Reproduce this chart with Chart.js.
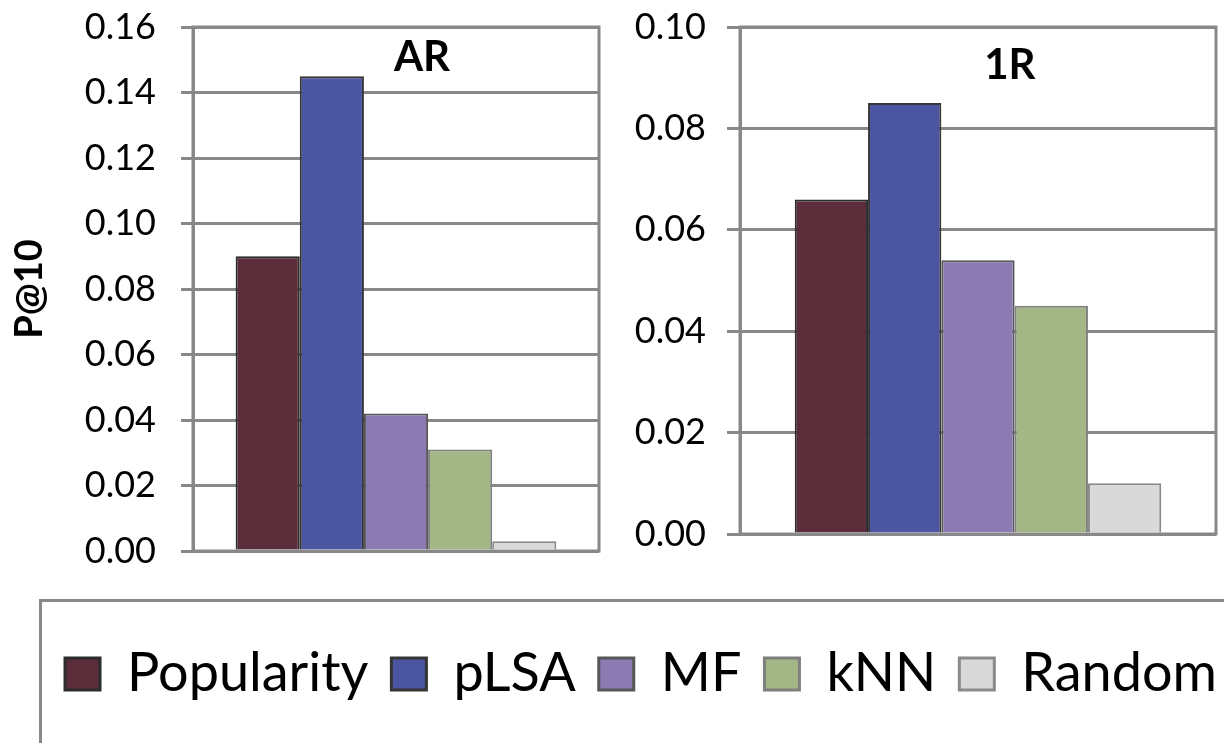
<!DOCTYPE html>
<html>
<head>
<meta charset="utf-8">
<title>P@10 by method</title>
<script src="https://cdn.jsdelivr.net/npm/chart.js@4.4.1/dist/chart.umd.min.js"></script>
<style>
    html, body { margin: 0; padding: 0; background: #fff; }
    body { width: 1224px; height: 743px; overflow: hidden; position: relative; }
    #wrap-ar { position: absolute; left: 0; top: 0; }
    #wrap-1r { position: absolute; left: 620px; top: 0; }
    #wrap-legend { position: absolute; left: -9px; top: 602px; }
    #legend-frame {
        position: absolute; left: 39px; top: 599px; width: 1300px; height: 200px;
        border: 3px solid #888; box-sizing: border-box; pointer-events: none;
    }
</style>
</head>
<body>
<div id="wrap-ar"><canvas id="chart-ar" width="620" height="600"></canvas></div>
<div id="wrap-1r"><canvas id="chart-1r" width="604" height="600"></canvas></div>
<div id="wrap-legend"><canvas id="chart-legend" width="1300" height="400"></canvas></div>
<div id="legend-frame"></div>
<script>

var methods = ['Popularity', 'pLSA', 'MF', 'kNN', 'Random'];
var panels = ['AR', '1R'];
var valuesAR = [0.090, 0.145, 0.042, 0.031, 0.003];
var values1R = [0.066, 0.085, 0.054, 0.045, 0.010];
var ticksAR = [0, 0.02, 0.04, 0.06, 0.08, 0.10, 0.12, 0.14, 0.16];
var ticks1R = [0, 0.02, 0.04, 0.06, 0.08, 0.10];

var fillColors = ['#5b2d3b', '#4b55a1', '#8c7bb3', '#a2b785', '#d9d9d9'];
var edgeColors = ['#2c2c2c', '#353535', '#575757', '#7f7f7f', '#8a8a8a'];
var gridGray = '#888888';

Chart.defaults.font.family = 'Lato, "Liberation Sans", sans-serif';
Chart.defaults.color = '#000';
Chart.defaults.animation = false;

/* panel title drawn inside the plot area */
var panelTitle = {
    id: 'panelTitle',
    afterDraw: function(chart, args, opts) {
        if(!opts.text) return;
        var area = chart.chartArea;
        var ctx = chart.ctx;
        ctx.save();
        ctx.font = 'bold 42px Lato';
        ctx.fillStyle = '#000';
        ctx.textAlign = 'center';
        ctx.textBaseline = 'alphabetic';
        ctx.fillText(opts.text, area.left + area.width * opts.x, area.top + opts.baseline);
        ctx.restore();
    }
};

/* grey box round the plot area */
var plotFrame = {
    id: 'plotFrame',
    beforeDatasetsDraw: function(chart, args, opts) {
        if(!opts.show) return;
        var a = chart.chartArea;
        var ctx = chart.ctx;
        ctx.save();
        ctx.strokeStyle = gridGray;
        ctx.lineWidth = 3;
        ctx.strokeRect(a.left, a.top, a.right - a.left, a.bottom - a.top);
        ctx.restore();
    }
};

function build_datasets(values, groupWidth) {
    return methods.map(function(m, i) {
        return {
            label: m,
            data: values ? [values[i]] : [],
            backgroundColor: fillColors[i],
            borderColor: edgeColors[i],
            borderWidth: 2,
            borderSkipped: 'bottom',
            categoryPercentage: groupWidth || 1,
            barPercentage: 1
        };
    });
}

function panel_chart(canvasId, panel, values, ticks, cfg) {
    var ctx = document.getElementById(canvasId);
    return new Chart(ctx, {
        type: 'bar',
        data: {
            labels: [panel],
            datasets: build_datasets(values, cfg.groupWidth)
        },
        options: {
            responsive: false,
            layout: { padding: { left: 0, top: 27, right: cfg.padRight, bottom: cfg.padBottom } },
            scales: {
                x: { display: false },
                y: {
                    min: ticks[0],
                    max: ticks[ticks.length - 1],
                    afterBuildTicks: function(axis) {
                        axis.ticks = ticks.map(function(v) { return { value: v }; });
                    },
                    afterFit: function(scale) {
                        // fixed axis width, and no extra room above/below for labels
                        scale.width = cfg.axisWidth;
                        scale.paddingTop = 0;
                        scale.paddingBottom = 0;
                    },
                    grid: { color: gridGray, lineWidth: 3, tickLength: cfg.tickLength, drawTicks: true },
                    border: { color: gridGray, width: 3 },
                    ticks: {
                        padding: cfg.tickPad,
                        font: { size: 36 },
                        color: '#000',
                        callback: function(v) { return Number(v).toFixed(2); }
                    },
                    title: {
                        display: !!cfg.yTitle,
                        text: cfg.yTitle || '',
                        color: '#000',
                        font: { size: 38, weight: 'bold' },
                        padding: { top: 7, bottom: 0 }
                    }
                }
            },
            plugins: {
                legend: { display: false },
                tooltip: { enabled: false },
                panelTitle: { text: panel, x: cfg.titleX, baseline: cfg.titleBase },
                plotFrame: { show: true }
            }
        },
        plugins: [panelTitle, plotFrame]
    });
}

panel_chart('chart-ar', panels[0], valuesAR, ticksAR, {
    groupWidth: 0.79, padRight: 21, padBottom: 49, axisWidth: 193,
    tickLength: 12, tickPad: 25, yTitle: 'P@10', titleX: 0.564, titleBase: 44
});

panel_chart('chart-1r', panels[1], values1R, ticks1R, {
    groupWidth: 0.77, padRight: 8, padBottom: 66, axisWidth: 120,
    tickLength: 13, tickPad: 21, yTitle: null, titleX: 0.567, titleBase: 52
});

/* legend only chart, no axes */
new Chart(document.getElementById('chart-legend'), {
    type: 'bar',
    data: {
        labels: [''],
        datasets: build_datasets(null).map(function(d) { d.borderWidth = 3; return d; })
    },
    options: {
        responsive: false,
        layout: { padding: { top: 22 } },
        scales: { x: { display: false }, y: { display: false } },
        plugins: {
            tooltip: { enabled: false },
            legend: {
                display: true,
                position: 'top',
                labels: {
                    color: '#000',
                    font: { size: 54 },
                    boxWidth: 35,
                    boxHeight: 32,
                    padding: 23
                }
            }
        }
    }
});

</script>
</body>
</html>
